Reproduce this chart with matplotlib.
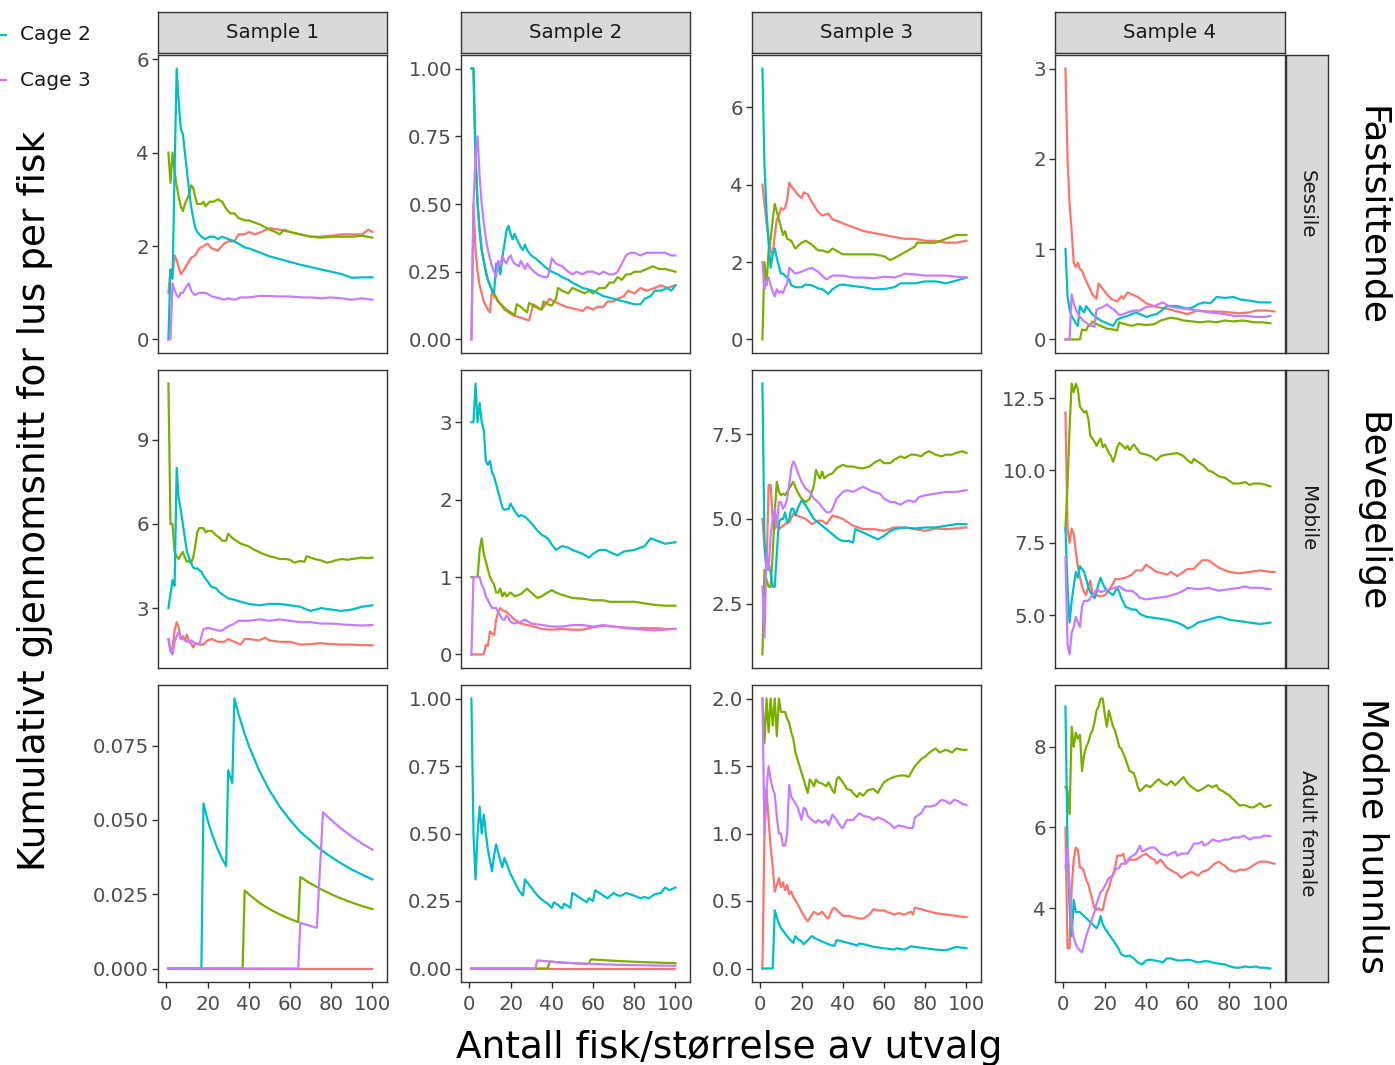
import matplotlib
matplotlib.use("Agg")
import matplotlib.pyplot as plt
from matplotlib.lines import Line2D

# cumulative mean lice per fish as (n fish, mean) pairs
# colours follow ggplot default hue order: Cage 0 red, Cage 1 green, Cage 2 cyan, Cage 3 purple

# --- Sessile (Fastsittende) ---
ses_s1_red = [(1, 1.0), (2, 1.5), (3, 1.4), (4, 1.8), (5, 1.7), (6, 1.55), (7, 1.4), (8, 1.45), (10, 1.6), (12, 1.75),
              (14, 1.8), (16, 1.95), (18, 2.0), (20, 2.05), (22, 1.95), (25, 1.9), (28, 2.05), (30, 2.1), (33, 2.1),
              (35, 2.25), (38, 2.25), (40, 2.3), (43, 2.25), (46, 2.3), (50, 2.38), (55, 2.35), (60, 2.3), (65, 2.25),
              (70, 2.2), (75, 2.2), (80, 2.22), (85, 2.25), (90, 2.25), (95, 2.25), (98, 2.35), (100, 2.3)]
ses_s1_green = [(1, 4.0), (2, 3.35), (3, 4.0), (4, 3.6), (5, 3.3), (6, 3.05), (7, 2.85), (8, 2.75), (9, 2.9), (10, 3.0),
                (11, 3.1), (12, 3.3), (13, 3.25), (14, 3.05), (15, 2.9), (17, 2.9), (18, 2.95), (19, 2.85), (21, 2.95),
                (23, 2.95), (25, 3.0), (27, 2.95), (29, 2.8), (31, 2.7), (33, 2.7), (35, 2.6), (38, 2.55), (40, 2.55),
                (43, 2.5), (46, 2.45), (50, 2.35), (53, 2.3), (55, 2.25), (57, 2.35), (60, 2.3), (65, 2.25), (70, 2.2),
                (75, 2.18), (80, 2.2), (85, 2.2), (90, 2.2), (95, 2.22), (100, 2.18)]
ses_s1_cyan = [(1, 0.0), (2, 1.5), (3, 1.3), (4, 3.6), (5, 5.8), (6, 5.1), (7, 4.5), (8, 4.4), (9, 4.0), (10, 3.6),
               (11, 3.2), (12, 2.85), (13, 2.6), (14, 2.4), (15, 2.3), (17, 2.2), (19, 2.15), (21, 2.2), (23, 2.2),
               (25, 2.15), (27, 2.2), (30, 2.15), (32, 2.12), (35, 2.05), (38, 1.97), (40, 1.95), (43, 1.9), (46, 1.85),
               (50, 1.78), (55, 1.72), (60, 1.66), (65, 1.6), (70, 1.55), (75, 1.5), (80, 1.45), (85, 1.4), (90, 1.32),
               (95, 1.33), (100, 1.33)]
ses_s1_purple = [(1, 0.0), (2, 0.0), (3, 1.2), (4, 1.05), (5, 0.95), (6, 0.9), (7, 1.0), (8, 1.0), (10, 1.15), (11, 1.2),
                 (12, 1.05), (13, 0.98), (14, 0.95), (16, 1.0), (18, 1.0), (20, 0.98), (22, 0.92), (24, 0.9), (26, 0.88),
                 (28, 0.85), (30, 0.88), (33, 0.85), (36, 0.9), (40, 0.9), (45, 0.93), (50, 0.93), (55, 0.92), (60, 0.92),
                 (65, 0.9), (70, 0.9), (75, 0.88), (80, 0.9), (85, 0.88), (90, 0.85), (95, 0.88), (100, 0.85)]

ses_s2_red = [(1, 0.0), (2, 0.5), (3, 0.33), (4, 0.25), (5, 0.2), (6, 0.17), (7, 0.14), (8, 0.125), (9, 0.11), (10, 0.1),
              (11, 0.18), (12, 0.16), (13, 0.15), (15, 0.13), (17, 0.11), (19, 0.1), (21, 0.09), (23, 0.085), (25, 0.08),
              (27, 0.075), (29, 0.07), (30, 0.1), (31, 0.13), (33, 0.12), (35, 0.11), (37, 0.13), (39, 0.15), (41, 0.14),
              (44, 0.13), (47, 0.12), (50, 0.115), (53, 0.11), (55, 0.105), (57, 0.12), (60, 0.11), (62, 0.12), (65, 0.12),
              (67, 0.14), (70, 0.14), (72, 0.15), (75, 0.16), (77, 0.18), (80, 0.17), (83, 0.19), (86, 0.18), (90, 0.19),
              (93, 0.2), (96, 0.19), (100, 0.2)]
ses_s2_green = [(1, 1.0), (2, 1.0), (3, 0.67), (4, 0.5), (5, 0.4), (6, 0.33), (7, 0.29), (8, 0.25), (9, 0.22), (10, 0.2),
                (12, 0.17), (14, 0.14), (16, 0.125), (18, 0.11), (20, 0.1), (22, 0.09), (23, 0.13), (25, 0.12), (28, 0.1),
                (29, 0.135), (32, 0.12), (35, 0.11), (36, 0.14), (38, 0.13), (40, 0.125), (42, 0.15), (43, 0.19),
                (45, 0.18), (48, 0.17), (50, 0.19), (53, 0.18), (56, 0.17), (58, 0.18), (60, 0.17), (63, 0.19), (66, 0.19),
                (68, 0.21), (70, 0.21), (72, 0.23), (74, 0.22), (76, 0.24), (78, 0.24), (80, 0.25), (83, 0.25), (86, 0.26),
                (89, 0.27), (92, 0.26), (95, 0.26), (100, 0.25)]
ses_s2_cyan = [(1, 1.0), (2, 1.0), (3, 0.67), (4, 0.5), (5, 0.4), (6, 0.33), (7, 0.29), (8, 0.25), (9, 0.22), (10, 0.2),
               (11, 0.18), (12, 0.17), (13, 0.28), (14, 0.28), (15, 0.24), (16, 0.3), (17, 0.35), (18, 0.4), (19, 0.42),
               (20, 0.39), (21, 0.37), (22, 0.39), (23, 0.37), (25, 0.34), (26, 0.33), (27, 0.35), (28, 0.33), (30, 0.31),
               (32, 0.3), (35, 0.28), (38, 0.26), (40, 0.25), (43, 0.24), (45, 0.23), (48, 0.22), (50, 0.21), (55, 0.19),
               (60, 0.18), (65, 0.16), (70, 0.15), (75, 0.14), (80, 0.13), (83, 0.13), (85, 0.15), (88, 0.16), (90, 0.18),
               (93, 0.18), (96, 0.19), (98, 0.18), (100, 0.2)]
ses_s2_purple = [(1, 0.0), (2, 0.5), (3, 0.67), (4, 0.75), (5, 0.6), (6, 0.5), (7, 0.43), (8, 0.375), (9, 0.33), (10, 0.3),
                 (11, 0.27), (12, 0.25), (13, 0.23), (14, 0.29), (15, 0.27), (16, 0.31), (17, 0.29), (18, 0.28), (19, 0.3),
                 (20, 0.31), (21, 0.29), (22, 0.28), (24, 0.27), (25, 0.29), (27, 0.26), (28, 0.28), (30, 0.26), (33, 0.24),
                 (36, 0.23), (38, 0.23), (39, 0.26), (40, 0.3), (42, 0.28), (45, 0.27), (48, 0.25), (50, 0.24), (52, 0.25),
                 (55, 0.24), (57, 0.25), (60, 0.25), (63, 0.24), (65, 0.25), (68, 0.24), (70, 0.24), (72, 0.25), (74, 0.28),
                 (76, 0.31), (78, 0.32), (80, 0.32), (83, 0.31), (86, 0.32), (89, 0.32), (92, 0.32), (95, 0.32), (98, 0.31),
                 (100, 0.31)]

ses_s3_red = [(1, 4.0), (2, 3.5), (3, 3.0), (4, 2.6), (5, 2.3), (6, 2.2), (7, 2.7), (8, 3.1), (9, 3.2), (10, 3.4),
              (11, 3.35), (12, 3.4), (13, 3.6), (14, 4.05), (15, 3.95), (16, 3.9), (18, 3.75), (20, 3.65), (21, 3.8),
              (23, 3.75), (25, 3.55), (28, 3.3), (30, 3.2), (33, 3.25), (35, 3.1), (38, 3.05), (40, 3.0), (45, 2.9),
              (50, 2.8), (55, 2.75), (60, 2.7), (65, 2.65), (70, 2.6), (75, 2.6), (80, 2.55), (85, 2.55), (90, 2.5),
              (95, 2.5), (100, 2.55)]
ses_s3_green = [(1, 0.0), (2, 2.0), (3, 1.4), (4, 2.3), (5, 2.6), (6, 3.1), (7, 3.5), (8, 3.3), (9, 3.1), (10, 2.9),
                (11, 2.7), (12, 2.8), (13, 2.6), (15, 2.55), (17, 2.35), (18, 2.4), (20, 2.5), (22, 2.55), (25, 2.45),
                (28, 2.3), (30, 2.3), (33, 2.25), (35, 2.35), (40, 2.2), (45, 2.2), (50, 2.2), (55, 2.2), (60, 2.15),
                (63, 2.05), (65, 2.1), (70, 2.25), (75, 2.4), (76, 2.5), (80, 2.5), (85, 2.5), (90, 2.6), (95, 2.7),
                (100, 2.7)]
ses_s3_cyan = [(1, 7.0), (2, 4.5), (3, 3.3), (4, 2.5), (5, 1.85), (6, 2.2), (7, 2.35), (8, 2.1), (9, 1.9), (10, 1.7),
               (11, 1.7), (12, 1.65), (14, 1.55), (15, 1.4), (17, 1.35), (20, 1.35), (22, 1.42), (25, 1.4), (28, 1.32),
               (30, 1.3), (33, 1.18), (35, 1.3), (38, 1.4), (40, 1.42), (45, 1.38), (50, 1.35), (55, 1.3), (60, 1.3),
               (65, 1.35), (68, 1.45), (70, 1.45), (75, 1.45), (80, 1.5), (85, 1.5), (90, 1.45), (95, 1.52), (100, 1.6)]
ses_s3_purple = [(1, 2.0), (2, 1.3), (3, 1.5), (4, 1.6), (5, 1.4), (6, 1.24), (7, 1.11), (8, 1.3), (9, 1.2), (10, 1.25),
                 (11, 1.2), (12, 1.35), (13, 1.45), (14, 1.85), (15, 1.8), (17, 1.7), (20, 1.75), (22, 1.8), (25, 1.85),
                 (28, 1.75), (30, 1.65), (32, 1.55), (35, 1.65), (40, 1.65), (45, 1.6), (50, 1.6), (55, 1.58), (60, 1.62),
                 (65, 1.6), (68, 1.65), (70, 1.7), (75, 1.68), (80, 1.65), (85, 1.65), (90, 1.65), (95, 1.62), (100, 1.6)]

ses_s4_red = [(1, 3.0), (2, 2.0), (3, 1.5), (4, 1.2), (5, 0.85), (6, 0.8), (7, 0.85), (8, 0.78), (9, 0.76), (10, 0.7),
              (12, 0.6), (14, 0.5), (16, 0.45), (17, 0.62), (19, 0.56), (21, 0.5), (23, 0.45), (26, 0.42), (28, 0.48),
              (29, 0.45), (31, 0.52), (33, 0.5), (36, 0.47), (40, 0.4), (45, 0.36), (50, 0.34), (55, 0.31), (60, 0.28),
              (65, 0.32), (70, 0.31), (75, 0.31), (80, 0.3), (85, 0.29), (90, 0.3), (93, 0.32), (98, 0.32), (102, 0.31)]
ses_s4_green = [(1, 0.0), (8, 0.0), (9, 0.11), (11, 0.1), (12, 0.15), (13, 0.15), (14, 0.2), (16, 0.17), (18, 0.15),
                (21, 0.12), (24, 0.11), (26, 0.1), (27, 0.19), (28, 0.18), (30, 0.17), (33, 0.15), (36, 0.17), (40, 0.16),
                (44, 0.17), (47, 0.21), (50, 0.23), (52, 0.24), (55, 0.23), (58, 0.21), (62, 0.2), (66, 0.19), (70, 0.2),
                (74, 0.19), (78, 0.21), (82, 0.2), (87, 0.21), (92, 0.19), (96, 0.19), (100, 0.18)]
ses_s4_cyan = [(1, 1.0), (2, 0.48), (3, 0.33), (4, 0.26), (5, 0.22), (6, 0.18), (7, 0.15), (8, 0.37), (9, 0.33), (10, 0.3),
               (11, 0.37), (12, 0.34), (14, 0.28), (16, 0.24), (18, 0.21), (21, 0.18), (24, 0.15), (26, 0.22), (28, 0.24),
               (31, 0.26), (35, 0.3), (38, 0.27), (40, 0.25), (43, 0.27), (45, 0.28), (48, 0.33), (50, 0.37), (55, 0.37),
               (60, 0.34), (63, 0.36), (65, 0.39), (68, 0.41), (71, 0.4), (74, 0.47), (78, 0.46), (82, 0.47), (86, 0.44),
               (90, 0.43), (95, 0.41), (100, 0.41)]
ses_s4_purple = [(1, 0.0), (3, 0.0), (4, 0.5), (5, 0.4), (6, 0.33), (7, 0.29), (8, 0.25), (10, 0.2), (12, 0.17), (14, 0.15),
                 (15, 0.14), (16, 0.33), (18, 0.35), (20, 0.37), (21, 0.39), (23, 0.35), (25, 0.32), (27, 0.27), (29, 0.28),
                 (31, 0.3), (34, 0.32), (37, 0.32), (40, 0.36), (44, 0.37), (48, 0.41), (51, 0.37), (55, 0.35), (58, 0.34),
                 (62, 0.33), (65, 0.32), (70, 0.3), (75, 0.29), (78, 0.28), (83, 0.26), (88, 0.26), (93, 0.25), (97, 0.25),
                 (100, 0.26)]

# --- Mobile (Bevegelige) ---
mob_s1_red = [(1, 1.9), (2, 1.5), (3, 1.6), (4, 2.2), (5, 2.5), (6, 2.3), (7, 1.9), (8, 2.0), (9, 1.85), (10, 2.05),
              (11, 1.8), (12, 1.75), (13, 1.6), (14, 1.75), (16, 1.7), (18, 1.7), (20, 1.85), (22, 1.9), (25, 1.8),
              (28, 1.8), (30, 1.9), (33, 1.8), (36, 1.7), (38, 1.9), (40, 1.9), (45, 1.85), (48, 1.95), (50, 1.85),
              (55, 1.8), (60, 1.8), (65, 1.7), (70, 1.72), (75, 1.75), (80, 1.72), (85, 1.7), (90, 1.7), (95, 1.68),
              (100, 1.68)]
mob_s1_green = [(1, 11.0), (2, 6.0), (3, 6.0), (4, 5.0), (5, 4.85), (6, 4.75), (7, 4.9), (8, 5.0), (9, 4.8), (10, 4.65),
                (11, 4.7), (12, 4.6), (13, 4.8), (14, 5.2), (15, 5.7), (16, 5.85), (18, 5.85), (19, 5.7), (20, 5.75),
                (22, 5.75), (24, 5.6), (26, 5.5), (27, 5.4), (29, 5.4), (30, 5.65), (32, 5.5), (34, 5.4), (36, 5.3),
                (38, 5.25), (40, 5.2), (42, 5.1), (45, 5.0), (48, 4.9), (50, 4.85), (53, 4.8), (55, 4.75), (58, 4.75),
                (60, 4.72), (62, 4.62), (65, 4.68), (67, 4.65), (68, 4.85), (70, 4.8), (72, 4.75), (75, 4.7), (78, 4.62),
                (80, 4.65), (82, 4.7), (85, 4.75), (88, 4.72), (90, 4.75), (95, 4.8), (98, 4.78), (100, 4.8)]
mob_s1_cyan = [(1, 3.0), (2, 3.5), (3, 4.0), (4, 3.8), (5, 8.0), (6, 6.9), (7, 6.5), (8, 6.0), (9, 5.5), (10, 5.0),
               (11, 4.8), (12, 4.6), (13, 4.45), (14, 4.4), (15, 4.42), (16, 4.35), (17, 4.3), (18, 4.15), (20, 3.95),
               (22, 3.75), (24, 3.72), (26, 3.55), (28, 3.45), (30, 3.35), (33, 3.3), (35, 3.25), (40, 3.15), (45, 3.1),
               (50, 3.15), (55, 3.15), (60, 3.1), (65, 3.05), (68, 2.95), (70, 2.9), (75, 3.0), (80, 2.95), (85, 2.9),
               (90, 2.95), (95, 3.05), (100, 3.1)]
mob_s1_purple = [(1, 1.9), (2, 1.46), (3, 1.35), (4, 1.8), (5, 2.0), (6, 2.15), (7, 1.9), (8, 1.9), (10, 1.8), (12, 1.85),
                 (14, 1.75), (16, 1.72), (18, 2.25), (20, 2.3), (23, 2.25), (25, 2.2), (27, 2.2), (30, 2.35), (33, 2.45),
                 (35, 2.55), (40, 2.55), (45, 2.6), (50, 2.55), (55, 2.6), (60, 2.55), (65, 2.5), (70, 2.5), (75, 2.45),
                 (80, 2.45), (85, 2.42), (90, 2.4), (95, 2.38), (100, 2.4)]

mob_s2_red = [(1, 0.0), (7, 0.0), (8, 0.125), (9, 0.11), (10, 0.3), (11, 0.27), (12, 0.25), (13, 0.45), (14, 0.55),
              (15, 0.6), (16, 0.57), (18, 0.55), (20, 0.5), (22, 0.45), (25, 0.4), (28, 0.38), (30, 0.37), (35, 0.33),
              (40, 0.32), (45, 0.33), (50, 0.32), (55, 0.32), (60, 0.35), (65, 0.37), (70, 0.36), (75, 0.35), (80, 0.34),
              (85, 0.34), (90, 0.34), (95, 0.33), (100, 0.33)]
mob_s2_green = [(1, 1.0), (4, 1.0), (5, 1.35), (6, 1.5), (7, 1.3), (8, 1.2), (9, 1.1), (10, 1.0), (11, 0.95), (12, 0.9),
                (13, 0.8), (14, 0.8), (15, 0.85), (16, 0.75), (17, 0.8), (18, 0.75), (20, 0.8), (22, 0.75), (25, 0.78),
                (28, 0.85), (30, 0.8), (33, 0.73), (35, 0.75), (38, 0.8), (40, 0.83), (42, 0.8), (45, 0.77), (50, 0.73),
                (55, 0.72), (60, 0.7), (65, 0.7), (68, 0.68), (70, 0.68), (75, 0.68), (80, 0.68), (85, 0.66), (90, 0.64),
                (95, 0.63), (100, 0.63)]
mob_s2_cyan = [(1, 3.0), (2, 3.0), (3, 3.5), (4, 3.0), (5, 3.25), (6, 3.0), (7, 2.9), (8, 2.5), (9, 2.45), (10, 2.5),
               (11, 2.35), (12, 2.3), (13, 2.2), (14, 2.1), (15, 2.0), (16, 1.9), (17, 1.87), (19, 1.88), (20, 1.95),
               (22, 1.85), (24, 1.78), (25, 1.8), (27, 1.78), (30, 1.7), (33, 1.6), (35, 1.55), (38, 1.5), (40, 1.42),
               (42, 1.35), (45, 1.4), (48, 1.38), (50, 1.35), (55, 1.3), (58, 1.25), (60, 1.3), (63, 1.35), (66, 1.35),
               (70, 1.3), (72, 1.28), (75, 1.33), (80, 1.35), (85, 1.4), (88, 1.5), (90, 1.48), (95, 1.43), (100, 1.45)]
mob_s2_purple = [(1, 0.0), (2, 1.0), (5, 1.0), (6, 0.9), (7, 0.85), (8, 0.75), (9, 0.7), (10, 0.65), (11, 0.6), (13, 0.6),
                 (14, 0.55), (15, 0.5), (16, 0.45), (17, 0.45), (18, 0.5), (19, 0.47), (20, 0.42), (22, 0.4), (25, 0.42),
                 (27, 0.45), (30, 0.4), (35, 0.38), (40, 0.36), (45, 0.36), (50, 0.38), (55, 0.38), (60, 0.36), (65, 0.38),
                 (70, 0.36), (75, 0.34), (80, 0.33), (85, 0.32), (90, 0.31), (95, 0.32), (100, 0.33)]

mob_s3_red = [(1, 5.0), (2, 4.2), (3, 3.5), (4, 6.0), (5, 6.0), (6, 5.0), (7, 4.7), (8, 5.0), (9, 4.7), (10, 4.75),
              (12, 4.85), (14, 4.9), (16, 5.15), (18, 5.1), (20, 5.05), (22, 5.0), (25, 4.85), (28, 4.95), (30, 4.95),
              (32, 4.85), (35, 5.1), (38, 5.05), (40, 5.0), (45, 4.8), (50, 4.7), (55, 4.7), (60, 4.65), (65, 4.75),
              (70, 4.75), (75, 4.7), (80, 4.65), (85, 4.72), (90, 4.7), (95, 4.72), (100, 4.75)]
mob_s3_green = [(1, 1.0), (2, 3.5), (3, 3.2), (4, 3.0), (5, 3.0), (6, 4.0), (7, 5.2), (8, 6.1), (9, 5.8), (10, 5.7),
                (11, 5.75), (12, 5.7), (13, 5.8), (14, 5.9), (15, 6.0), (16, 6.1), (17, 5.95), (18, 5.8), (20, 5.6),
                (22, 5.5), (24, 5.6), (26, 6.0), (27, 6.45), (28, 6.3), (29, 6.2), (30, 6.4), (31, 6.2), (33, 6.3),
                (35, 6.35), (37, 6.5), (40, 6.6), (42, 6.55), (45, 6.55), (48, 6.5), (50, 6.5), (53, 6.55), (55, 6.65),
                (58, 6.75), (60, 6.65), (63, 6.65), (65, 6.75), (68, 6.85), (70, 6.8), (73, 6.9), (75, 6.9), (78, 6.85),
                (80, 6.95), (82, 7.0), (85, 6.9), (88, 6.85), (90, 6.9), (93, 6.9), (95, 6.95), (98, 7.0), (100, 6.95)]
mob_s3_cyan = [(1, 9.0), (2, 4.3), (3, 3.5), (4, 3.7), (5, 3.4), (6, 3.0), (7, 3.0), (8, 4.0), (9, 4.9), (10, 5.0),
               (11, 5.0), (12, 5.2), (13, 4.9), (14, 5.0), (15, 5.3), (16, 5.3), (17, 5.1), (18, 5.3), (20, 5.55),
               (22, 5.4), (24, 5.2), (26, 5.0), (28, 4.9), (30, 4.8), (32, 4.7), (35, 4.55), (38, 4.4), (40, 4.35),
               (43, 4.35), (45, 4.3), (46, 4.7), (48, 4.65), (50, 4.6), (55, 4.45), (57, 4.4), (60, 4.5), (62, 4.6),
               (65, 4.7), (70, 4.75), (75, 4.72), (80, 4.75), (85, 4.75), (90, 4.8), (95, 4.85), (100, 4.85)]
mob_s3_purple = [(1, 3.0), (2, 1.5), (3, 4.0), (4, 3.5), (5, 4.5), (6, 5.0), (7, 5.3), (8, 4.75), (9, 5.5), (10, 5.5),
                 (11, 5.3), (12, 5.4), (13, 5.6), (14, 6.0), (15, 6.5), (16, 6.7), (17, 6.6), (18, 6.4), (20, 6.1),
                 (22, 5.9), (24, 5.8), (26, 5.6), (28, 5.5), (30, 5.35), (32, 5.2), (34, 5.2), (35, 5.3), (37, 5.6),
                 (40, 5.8), (42, 5.85), (45, 5.8), (48, 5.9), (50, 5.95), (53, 5.85), (55, 5.8), (58, 5.75), (60, 5.6),
                 (63, 5.5), (65, 5.5), (68, 5.42), (70, 5.5), (72, 5.55), (75, 5.5), (77, 5.65), (80, 5.7), (85, 5.75),
                 (90, 5.8), (95, 5.8), (100, 5.85)]

mob_s4_red = [(1, 12.0), (2, 8.0), (3, 7.5), (4, 8.0), (5, 7.8), (6, 7.2), (7, 6.7), (8, 6.3), (9, 6.0), (10, 5.8),
              (11, 5.7), (12, 6.0), (13, 6.2), (14, 5.8), (15, 5.6), (16, 5.7), (18, 5.65), (20, 5.7), (22, 5.85),
              (24, 6.1), (25, 6.25), (27, 6.25), (30, 6.3), (33, 6.4), (35, 6.55), (38, 6.55), (40, 6.75), (42, 6.65),
              (45, 6.5), (48, 6.45), (50, 6.4), (52, 6.5), (55, 6.35), (58, 6.5), (60, 6.6), (63, 6.6), (65, 6.75),
              (67, 6.9), (70, 6.9), (73, 6.75), (75, 6.65), (78, 6.55), (80, 6.5), (85, 6.45), (90, 6.5), (95, 6.55),
              (100, 6.5), (102, 6.5)]
mob_s4_green = [(1, 8.0), (2, 9.5), (3, 11.5), (4, 13.0), (5, 12.7), (6, 13.0), (7, 12.8), (8, 12.2), (9, 12.1),
                (10, 12.0), (11, 12.05), (12, 11.8), (13, 11.2), (14, 11.1), (15, 11.0), (16, 10.85), (17, 11.0),
                (18, 11.1), (19, 10.8), (20, 10.9), (21, 10.75), (22, 10.6), (23, 10.5), (24, 10.3), (25, 10.5),
                (26, 10.8), (27, 10.95), (28, 10.9), (30, 10.75), (31, 10.85), (32, 10.7), (34, 10.9), (35, 10.8),
                (37, 10.6), (40, 10.55), (42, 10.5), (45, 10.35), (47, 10.5), (50, 10.55), (55, 10.6), (58, 10.5),
                (60, 10.35), (62, 10.25), (63, 10.4), (65, 10.3), (68, 10.15), (70, 10.0), (72, 9.95), (75, 9.8),
                (78, 9.75), (80, 9.65), (82, 9.55), (85, 9.55), (88, 9.6), (90, 9.5), (92, 9.55), (95, 9.55), (98, 9.5),
                (100, 9.45)]
mob_s4_cyan = [(1, 8.0), (2, 6.0), (3, 4.75), (4, 5.5), (5, 6.0), (6, 6.5), (7, 6.3), (8, 6.7), (9, 6.6), (10, 6.5),
               (12, 6.0), (13, 5.8), (14, 5.7), (15, 5.6), (16, 5.8), (17, 6.1), (18, 6.3), (19, 6.1), (20, 5.95),
               (22, 5.8), (24, 5.7), (26, 5.95), (27, 5.8), (28, 5.6), (30, 5.3), (33, 5.2), (35, 5.2), (37, 5.05),
               (40, 4.95), (45, 4.9), (50, 4.85), (55, 4.75), (58, 4.65), (60, 4.55), (62, 4.6), (65, 4.75), (70, 4.85),
               (75, 4.95), (78, 4.9), (80, 4.85), (85, 4.8), (90, 4.75), (95, 4.7), (100, 4.75)]
mob_s4_purple = [(1, 7.0), (2, 4.0), (3, 3.65), (4, 4.4), (5, 4.6), (6, 4.95), (7, 4.75), (8, 4.6), (9, 5.3), (10, 5.5),
                 (12, 5.5), (13, 5.6), (15, 5.75), (16, 5.9), (18, 5.8), (20, 5.85), (22, 5.9), (25, 5.95), (27, 6.0),
                 (28, 5.95), (30, 5.85), (33, 5.85), (35, 5.75), (37, 5.6), (40, 5.55), (45, 5.6), (50, 5.65), (55, 5.75),
                 (58, 5.85), (60, 5.95), (65, 5.9), (70, 5.95), (75, 5.85), (80, 5.9), (85, 5.95), (88, 6.0), (90, 5.95),
                 (95, 5.95), (100, 5.9)]

# --- Adult female (Modne hunnlus) ---
adf_s1_red = [(1, 0.0), (100, 0.0)]
adf_s1_green = [(1, 0.0), (37, 0.0), (38, 0.0263), (40, 0.025), (45, 0.0222), (50, 0.02), (55, 0.0182), (60, 0.0167),
                (64, 0.0156), (65, 0.0308), (70, 0.0286), (75, 0.0267), (80, 0.025), (85, 0.0235), (90, 0.0222),
                (95, 0.021), (100, 0.02)]
adf_s1_cyan = [(1, 0.0), (17, 0.0), (18, 0.0556), (20, 0.05), (22, 0.0455), (25, 0.04), (27, 0.037), (29, 0.0345),
               (30, 0.0667), (31, 0.0645), (32, 0.0625), (33, 0.0909), (35, 0.0857), (38, 0.079), (40, 0.075),
               (45, 0.0667), (50, 0.06), (55, 0.0545), (60, 0.05), (65, 0.046), (70, 0.043), (75, 0.04), (80, 0.0375),
               (85, 0.0353), (90, 0.0333), (95, 0.0316), (100, 0.03)]
adf_s1_purple = [(1, 0.0), (64, 0.0), (65, 0.0154), (70, 0.0143), (73, 0.0137), (76, 0.0526), (80, 0.05), (85, 0.047),
                 (90, 0.0444), (95, 0.042), (100, 0.04)]

adf_s2_red = [(1, 0.0), (100, 0.0)]
adf_s2_green = [(1, 0.0), (38, 0.0), (39, 0.0256), (42, 0.0238), (45, 0.0222), (50, 0.02), (55, 0.018), (58, 0.0172),
                (59, 0.034), (65, 0.031), (70, 0.0286), (75, 0.0267), (80, 0.025), (85, 0.0235), (90, 0.0222),
                (95, 0.021), (100, 0.02)]
adf_s2_cyan = [(1, 1.0), (2, 0.5), (3, 0.33), (4, 0.5), (5, 0.6), (6, 0.5), (7, 0.57), (8, 0.5), (9, 0.44), (10, 0.4),
               (11, 0.36), (12, 0.42), (13, 0.46), (14, 0.43), (15, 0.4), (16, 0.375), (17, 0.41), (18, 0.39), (19, 0.37),
               (20, 0.35), (22, 0.32), (24, 0.29), (26, 0.27), (27, 0.33), (28, 0.32), (30, 0.3), (33, 0.27), (36, 0.25),
               (38, 0.24), (40, 0.225), (41, 0.245), (43, 0.235), (45, 0.222), (46, 0.24), (48, 0.23), (49, 0.225),
               (50, 0.28), (52, 0.27), (55, 0.255), (57, 0.245), (58, 0.26), (60, 0.25), (61, 0.29), (63, 0.28),
               (65, 0.27), (67, 0.26), (70, 0.28), (72, 0.27), (74, 0.27), (76, 0.28), (78, 0.275), (80, 0.27),
               (83, 0.26), (85, 0.265), (87, 0.26), (90, 0.275), (93, 0.28), (95, 0.3), (97, 0.29), (100, 0.3)]
adf_s2_purple = [(1, 0.0), (32, 0.0), (33, 0.03), (36, 0.028), (40, 0.025), (45, 0.022), (50, 0.02), (55, 0.018),
                 (60, 0.0167), (70, 0.0143), (80, 0.0125), (90, 0.011), (100, 0.01)]

adf_s3_red = [(1, 0.0), (2, 1.0), (3, 1.33), (4, 1.1), (5, 0.9), (6, 0.75), (7, 0.57), (8, 0.62), (9, 0.67), (10, 0.6),
              (11, 0.64), (12, 0.58), (13, 0.62), (14, 0.55), (15, 0.57), (16, 0.53), (18, 0.48), (20, 0.42), (22, 0.37),
              (23, 0.35), (25, 0.4), (26, 0.42), (28, 0.4), (30, 0.42), (32, 0.38), (33, 0.37), (35, 0.44), (36, 0.45),
              (38, 0.42), (40, 0.39), (43, 0.39), (45, 0.38), (48, 0.37), (50, 0.37), (53, 0.4), (55, 0.44), (57, 0.43),
              (60, 0.43), (63, 0.41), (65, 0.4), (67, 0.41), (70, 0.4), (73, 0.42), (74, 0.4), (75, 0.45), (78, 0.44),
              (80, 0.43), (85, 0.41), (90, 0.4), (95, 0.39), (100, 0.38)]
adf_s3_green = [(1, 2.0), (2, 1.67), (3, 2.0), (4, 1.75), (5, 2.0), (6, 1.8), (7, 2.0), (8, 1.72), (9, 2.0), (10, 1.9),
                (12, 1.9), (13, 1.85), (14, 1.82), (15, 1.75), (16, 1.7), (17, 1.6), (18, 1.55), (19, 1.5), (20, 1.45),
                (21, 1.4), (22, 1.35), (23, 1.3), (24, 1.4), (25, 1.38), (26, 1.35), (27, 1.4), (28, 1.38), (30, 1.37),
                (32, 1.35), (33, 1.38), (35, 1.32), (36, 1.3), (37, 1.4), (38, 1.42), (40, 1.38), (42, 1.33), (44, 1.32),
                (45, 1.3), (47, 1.27), (48, 1.3), (50, 1.28), (52, 1.32), (55, 1.33), (57, 1.3), (58, 1.33), (60, 1.38),
                (62, 1.4), (65, 1.42), (68, 1.43), (70, 1.43), (72, 1.42), (75, 1.5), (78, 1.55), (80, 1.57), (82, 1.6),
                (85, 1.63), (87, 1.6), (90, 1.62), (93, 1.6), (95, 1.63), (98, 1.62), (100, 1.62)]
adf_s3_cyan = [(1, 0.0), (6, 0.0), (7, 0.43), (8, 0.38), (9, 0.33), (10, 0.3), (12, 0.26), (14, 0.22), (16, 0.19),
               (17, 0.24), (18, 0.22), (20, 0.2), (21, 0.18), (23, 0.21), (25, 0.24), (27, 0.22), (30, 0.2), (33, 0.18),
               (35, 0.17), (36, 0.17), (37, 0.21), (40, 0.2), (45, 0.18), (47, 0.17), (48, 0.185), (50, 0.18),
               (55, 0.16), (60, 0.15), (65, 0.14), (66, 0.15), (70, 0.14), (73, 0.165), (75, 0.16), (80, 0.15),
               (85, 0.14), (90, 0.135), (93, 0.15), (95, 0.16), (100, 0.15)]
adf_s3_purple = [(1, 2.0), (2, 1.0), (3, 1.33), (4, 1.5), (5, 1.4), (6, 1.33), (7, 1.29), (8, 1.12), (9, 1.0), (10, 1.0),
                 (11, 0.91), (12, 0.91), (13, 1.0), (14, 1.36), (15, 1.27), (16, 1.25), (17, 1.22), (18, 1.2), (19, 1.15),
                 (20, 1.1), (21, 1.19), (22, 1.18), (23, 1.13), (25, 1.1), (27, 1.08), (28, 1.1), (30, 1.08), (32, 1.1),
                 (33, 1.06), (35, 1.14), (37, 1.1), (39, 1.05), (40, 1.04), (42, 1.1), (45, 1.1), (48, 1.15), (50, 1.13),
                 (53, 1.12), (55, 1.1), (57, 1.12), (60, 1.1), (63, 1.07), (65, 1.04), (67, 1.06), (70, 1.05), (72, 1.04),
                 (74, 1.04), (75, 1.12), (78, 1.15), (80, 1.2), (83, 1.2), (85, 1.21), (88, 1.25), (90, 1.24), (92, 1.22),
                 (94, 1.25), (96, 1.24), (98, 1.22), (100, 1.21)]

adf_s4_red = [(1, 6.0), (2, 3.0), (3, 3.0), (4, 4.5), (5, 5.2), (6, 5.5), (7, 5.45), (8, 5.0), (9, 5.0), (10, 4.9),
              (11, 4.7), (12, 4.6), (13, 4.4), (14, 4.2), (15, 4.0), (16, 3.95), (17, 4.0), (18, 3.95), (19, 3.95),
              (20, 4.2), (21, 4.4), (22, 4.5), (23, 4.7), (25, 5.0), (26, 5.3), (27, 5.3), (28, 5.3), (29, 5.35),
              (30, 5.1), (32, 5.2), (35, 5.2), (38, 5.3), (40, 5.35), (42, 5.25), (44, 5.2), (45, 5.1), (47, 5.2),
              (50, 5.0), (55, 4.85), (57, 4.75), (60, 4.85), (62, 4.9), (65, 4.8), (67, 4.9), (70, 4.95), (73, 5.1),
              (75, 5.15), (78, 5.05), (80, 4.95), (83, 4.9), (85, 4.95), (88, 4.95), (90, 5.0), (93, 5.1), (95, 5.15),
              (98, 5.15), (102, 5.1)]
adf_s4_green = [(1, 7.0), (2, 6.9), (3, 6.33), (4, 8.5), (5, 8.0), (6, 8.35), (7, 8.2), (8, 8.3), (9, 7.4), (10, 7.8),
                (11, 8.0), (12, 8.1), (13, 8.3), (14, 8.4), (15, 8.6), (16, 8.9), (17, 9.0), (18, 9.2), (19, 9.2),
                (20, 8.8), (21, 8.5), (22, 8.9), (23, 8.7), (24, 8.5), (25, 8.4), (26, 8.2), (27, 8.0), (28, 7.95),
                (30, 7.7), (32, 7.4), (34, 7.35), (35, 7.2), (36, 7.0), (37, 6.9), (38, 6.95), (40, 7.05), (42, 7.0),
                (44, 7.1), (46, 7.2), (48, 7.1), (50, 7.05), (52, 7.15), (54, 7.05), (56, 7.15), (58, 7.25), (60, 7.1),
                (62, 7.0), (65, 6.9), (67, 6.95), (70, 7.05), (72, 7.0), (74, 7.05), (75, 6.95), (77, 6.9), (80, 6.8),
                (83, 6.65), (85, 6.55), (88, 6.55), (90, 6.5), (92, 6.5), (95, 6.6), (97, 6.5), (100, 6.55)]
adf_s4_cyan = [(1, 9.0), (2, 5.5), (3, 4.0), (4, 3.3), (5, 4.2), (6, 3.9), (8, 3.9), (10, 3.8), (12, 3.7), (14, 3.6),
               (15, 3.55), (16, 3.5), (17, 3.6), (18, 3.8), (19, 3.6), (20, 3.5), (22, 3.35), (24, 3.2), (26, 3.05),
               (28, 2.85), (30, 2.8), (32, 2.82), (34, 2.75), (36, 2.65), (38, 2.6), (40, 2.7), (42, 2.72), (44, 2.7),
               (46, 2.68), (48, 2.65), (50, 2.75), (52, 2.75), (55, 2.7), (58, 2.7), (60, 2.72), (62, 2.7), (65, 2.65),
               (68, 2.68), (70, 2.68), (72, 2.65), (75, 2.62), (78, 2.6), (80, 2.56), (83, 2.52), (85, 2.52),
               (88, 2.55), (90, 2.53), (93, 2.55), (95, 2.52), (97, 2.52), (100, 2.5)]
adf_s4_purple = [(1, 5.0), (2, 5.5), (3, 4.5), (4, 3.6), (5, 3.27), (6, 3.1), (7, 3.0), (8, 2.95), (9, 2.9), (10, 3.1),
                 (11, 3.3), (12, 3.45), (13, 3.6), (14, 3.75), (15, 3.9), (16, 4.1), (17, 4.25), (18, 4.4), (19, 4.45),
                 (20, 4.55), (22, 4.75), (24, 4.8), (25, 4.95), (27, 5.0), (28, 5.1), (30, 5.1), (32, 5.25), (35, 5.35),
                 (37, 5.55), (38, 5.4), (40, 5.45), (42, 5.5), (44, 5.5), (45, 5.45), (47, 5.35), (50, 5.3), (52, 5.35),
                 (54, 5.4), (55, 5.3), (57, 5.35), (60, 5.35), (62, 5.5), (63, 5.6), (65, 5.6), (67, 5.65), (68, 5.55),
                 (70, 5.6), (72, 5.7), (75, 5.65), (78, 5.7), (80, 5.7), (82, 5.75), (85, 5.75), (87, 5.8), (90, 5.7),
                 (92, 5.75), (95, 5.75), (97, 5.8), (100, 5.78)]

samples = ["Sample 1", "Sample 2", "Sample 3", "Sample 4"]
stages = ["Sessile", "Mobile", "Adult female"]
stage_titles = ["Fastsittende", "Bevegelige", "Modne hunnlus"]
cages = ["Cage 0", "Cage 1", "Cage 2", "Cage 3"]
cage_colors = ["#F8766D", "#7CAE00", "#00BFC4", "#C77CFF"]

grid = [
    [[ses_s1_red, ses_s1_green, ses_s1_cyan, ses_s1_purple],
     [ses_s2_red, ses_s2_green, ses_s2_cyan, ses_s2_purple],
     [ses_s3_red, ses_s3_green, ses_s3_cyan, ses_s3_purple],
     [ses_s4_red, ses_s4_green, ses_s4_cyan, ses_s4_purple]],
    [[mob_s1_red, mob_s1_green, mob_s1_cyan, mob_s1_purple],
     [mob_s2_red, mob_s2_green, mob_s2_cyan, mob_s2_purple],
     [mob_s3_red, mob_s3_green, mob_s3_cyan, mob_s3_purple],
     [mob_s4_red, mob_s4_green, mob_s4_cyan, mob_s4_purple]],
    [[adf_s1_red, adf_s1_green, adf_s1_cyan, adf_s1_purple],
     [adf_s2_red, adf_s2_green, adf_s2_cyan, adf_s2_purple],
     [adf_s3_red, adf_s3_green, adf_s3_cyan, adf_s3_purple],
     [adf_s4_red, adf_s4_green, adf_s4_cyan, adf_s4_purple]],
]

yticks = [
    [([0, 2, 4, 6], ["0", "2", "4", "6"]),
     ([0, 0.25, 0.5, 0.75, 1.0], ["0.00", "0.25", "0.50", "0.75", "1.00"]),
     ([0, 2, 4, 6], ["0", "2", "4", "6"]),
     ([0, 1, 2, 3], ["0", "1", "2", "3"])],
    [([3, 6, 9], ["3", "6", "9"]),
     ([0, 1, 2, 3], ["0", "1", "2", "3"]),
     ([2.5, 5.0, 7.5], ["2.5", "5.0", "7.5"]),
     ([5.0, 7.5, 10.0, 12.5], ["5.0", "7.5", "10.0", "12.5"])],
    [([0, 0.025, 0.05, 0.075], ["0.000", "0.025", "0.050", "0.075"]),
     ([0, 0.25, 0.5, 0.75, 1.0], ["0.00", "0.25", "0.50", "0.75", "1.00"]),
     ([0, 0.5, 1.0, 1.5, 2.0], ["0.0", "0.5", "1.0", "1.5", "2.0"]),
     ([4, 6, 8], ["4", "6", "8"])],
]
xticks = [0, 20, 40, 60, 80, 100]

# layout in pixels
W, H = 1395, 1065
COLS = [(158, 387), (461, 690), (752, 981), (1055, 1285)]
ROWS = [(55, 353), (370, 668), (685, 982)]
STRIP_TOP = (12, 53)
STRIP_RIGHT = (1286, 1328)
BORDER = "#333333"

fig = plt.figure(figsize=(W / 100, H / 100), dpi=100)


def px_axes(x0, y0, x1, y1):
    return fig.add_axes([x0 / W, 1 - y1 / H, (x1 - x0) / W, (y1 - y0) / H])


def style_box(ax):
    for sp in ax.spines.values():
        sp.set_color(BORDER)
        sp.set_linewidth(1.0)


# shared x range over all facets (ggplot default 5% expansion)
all_x = [p[0] for row in grid for panel in row for line in panel for p in line]
xmin, xmax = min(all_x), max(all_x)
xpad = 0.05 * (xmax - xmin)

for r, row in enumerate(grid):
    for c, panel in enumerate(row):
        ax = px_axes(COLS[c][0], ROWS[r][0], COLS[c][1], ROWS[r][1])
        ys = []
        for line, col in zip(panel, cage_colors):
            xs = [p[0] for p in line]
            yv = [p[1] for p in line]
            ys += yv
            ax.plot(xs, yv, color=col, lw=1.6, solid_joinstyle="round")
        ylo, yhi = min(ys), max(ys)
        ypad = 0.05 * (yhi - ylo)
        ax.set_ylim(ylo - ypad, yhi + ypad)
        ax.set_xlim(xmin - xpad, xmax + xpad)
        ticks, labels = yticks[r][c]
        ax.set_yticks(ticks)
        ax.set_yticklabels(labels)
        if r == len(grid) - 1:
            ax.set_xticks(xticks)
            ax.set_xticklabels([str(t) for t in xticks])
        else:
            ax.set_xticks([])
        ax.tick_params(length=4, width=1.0, color=BORDER, labelsize=14.2, labelcolor="#4D4D4D", pad=2.5)
        ax.tick_params(axis="x", pad=5)
        style_box(ax)

        if r == 0:
            st = px_axes(COLS[c][0], STRIP_TOP[0], COLS[c][1], STRIP_TOP[1])
            st.set_facecolor("#D9D9D9")
            st.set_xticks([])
            st.set_yticks([])
            style_box(st)
            st.text(0.5, 0.5, samples[c], ha="center", va="center", fontsize=14.3, color="#1A1A1A",
                    transform=st.transAxes)
        if c == len(row) - 1:
            sr = px_axes(STRIP_RIGHT[0], ROWS[r][0], STRIP_RIGHT[1], ROWS[r][1])
            sr.set_facecolor("#D9D9D9")
            sr.set_xticks([])
            sr.set_yticks([])
            style_box(sr)
            sr.text(0.5, 0.5, stages[r], ha="center", va="center", rotation=-90, fontsize=14.3,
                    color="#1A1A1A", transform=sr.transAxes)

# outer titles
fig.text(35 / W, 1 - 501 / H, "Kumulativt gjennomsnitt for lus per fisk", rotation=90,
         ha="center", va="center", fontsize=27, color="black")
fig.text(729 / W, 1 - 1058 / H, "Antall fisk/størrelse av utvalg", ha="center", va="baseline",
         fontsize=27, color="black")
for yc, title in zip([216, 512, 836], stage_titles):
    fig.text(1372 / W, 1 - yc / H, title, rotation=-90, ha="center", va="center", fontsize=26, color="black")

# legend, cut off at the top-left corner like the reference (only the part inside the canvas is drawn)
for i, (name, col) in enumerate(zip(cages, cage_colors)):
    yc = 35 + 45 * (i - 2)
    if yc < -20:
        continue
    fig.add_artist(Line2D([-12 / W, 6 / W], [1 - yc / H, 1 - yc / H], color=col, lw=1.6,
                          transform=fig.transFigure))
    fig.text(20 / W, 1 - yc / H, name, ha="left", va="center", fontsize=14.5, color="#1A1A1A")

fig.savefig("out.png", dpi=100)
